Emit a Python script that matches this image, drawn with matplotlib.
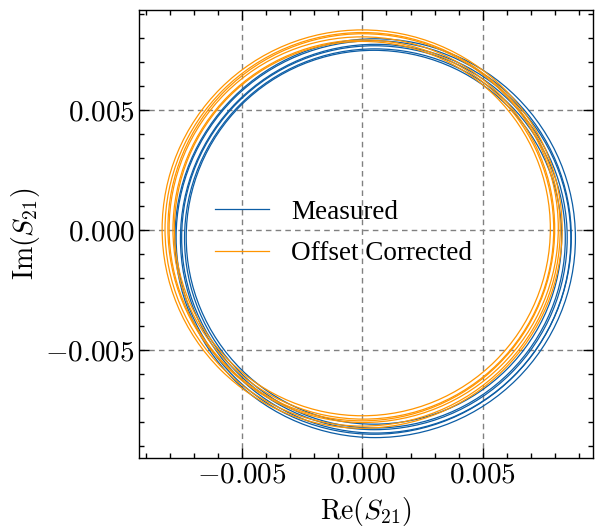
import matplotlib
matplotlib.use("Agg")
import matplotlib.pyplot as plt
from matplotlib.patches import Ellipse
from matplotlib.ticker import MultipleLocator

# Resonance loops in the complex plane: one loop per sweep, centre and radius
measured_cx = [0.00048, 0.00052, 0.00050, 0.00055, 0.00047, 0.00053]
measured_cy = [-0.00030, -0.00035, -0.00032, -0.00036, -0.00031, -0.00034]
measured_r = [0.00779, 0.00790, 0.00800, 0.00810, 0.00820, 0.00831]

corrected_cx = [0.00000, 0.00004, -0.00002, 0.00003, 0.00001, -0.00001]
corrected_cy = [0.00006, 0.00002, 0.00005, 0.00008, 0.00003, 0.00004]
corrected_r = [0.00780, 0.00790, 0.00800, 0.00810, 0.00820, 0.00830]

series_labels = ["Measured", "Offset Corrected"]
series_colors = ["#0C5DA5", "#FF9500"]

tick_values = [-0.005, 0.0, 0.005]

plt.rcParams["mathtext.fontset"] = "cm"
plt.rcParams["font.family"] = ["Liberation Serif", "DejaVu Serif"]

fig = plt.figure(figsize=(5.95, 5.29), dpi=100)
ax = fig.add_axes([139 / 595, 71 / 529, 454 / 595, 448 / 529])

lw = 0.9
for cx, cy, r in zip(measured_cx, measured_cy, measured_r):
    ax.add_patch(Ellipse((cx, cy), 2 * r, 2 * r, fill=False,
                         edgecolor=series_colors[0], lw=lw))
for cx, cy, r in zip(corrected_cx, corrected_cy, corrected_r):
    ax.add_patch(Ellipse((cx, cy), 2 * r, 2 * r, fill=False,
                         edgecolor=series_colors[1], lw=lw))

# legend proxies
for lab, col in zip(series_labels, series_colors):
    ax.plot([], [], color=col, lw=lw, label=lab)

ax.set_xlim(-0.00927, 0.00957)
ax.set_ylim(-0.0095, 0.00917)

ax.set_xticks(tick_values)
ax.set_yticks(tick_values)
ax.set_xticklabels([f"${v:.3f}$" for v in tick_values])
ax.set_yticklabels([f"${v:.3f}$" for v in tick_values])
ax.xaxis.set_minor_locator(MultipleLocator(0.001))
ax.yaxis.set_minor_locator(MultipleLocator(0.001))

ax.tick_params(which="both", direction="in", top=True, right=True,
               labelsize=21, width=1.0)
ax.tick_params(which="major", length=7, pad=3)
ax.tick_params(which="minor", length=3.5)
for s in ax.spines.values():
    s.set_linewidth(1.0)

ax.grid(True, which="major", linestyle=(0, (4, 3)), color="0.5", lw=1.0)
ax.set_axisbelow(True)

ax.set_xlabel(r"$\mathrm{Re}(S_{21})$", fontsize=20, labelpad=5)
ax.set_ylabel(r"$\mathrm{Im}(S_{21})$", fontsize=20, labelpad=2)

ax.legend(loc="center left", bbox_to_anchor=(0.114, 0.502), frameon=False,
          fontsize=19.5, handlelength=2.0, handletextpad=0.8, labelspacing=0.6)

fig.savefig("out.png", dpi=100)
